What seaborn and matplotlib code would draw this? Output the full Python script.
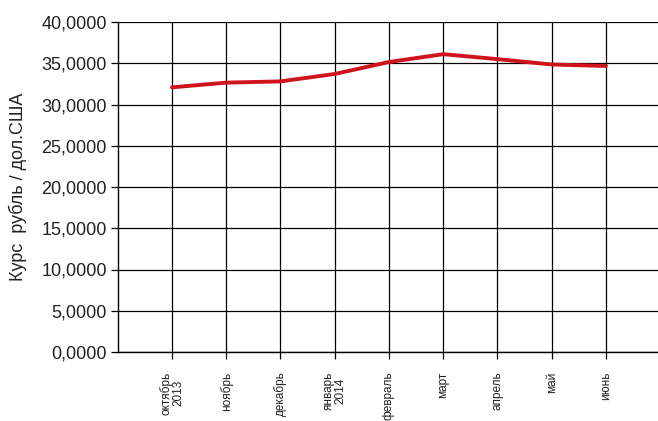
import matplotlib
matplotlib.use("Agg")
import matplotlib.pyplot as plt
import seaborn as sns
import pandas as pd

months = ["октябрь\n2013", "ноябрь", "декабрь", "январь\n2014", "февраль",
          "март", "апрель", "май", "июнь"]
rate = [32.08, 32.65, 32.80, 33.70, 35.15, 36.10, 35.50, 34.85, 34.67]
y_ticks = [0, 5, 10, 15, 20, 25, 30, 35, 40]

sns.set_style("white")
plt.rcParams["font.family"] = ["Liberation Sans", "DejaVu Sans"]

df = pd.DataFrame({"pos": range(1, len(months) + 1), "rate": rate})

fig = plt.figure(figsize=(6.58, 4.21), dpi=100)
ax = fig.add_axes([117.75 / 658, 1 - 352 / 421, 1 - 117.75 / 658, (352 - 22) / 421])

sns.lineplot(data=df, x="pos", y="rate", ax=ax, color="#d0141c", linewidth=2.8,
             zorder=3)

ax.set_xlim(0, 9.96)
ax.set_ylim(0, 40)
ax.set_xticks(df["pos"])
ax.set_xticklabels(months, rotation=90, fontsize=8.5, color="#222222",
                   va="top", ha="center", linespacing=0.95)
ax.set_yticks(y_ticks)
ax.set_yticklabels([f"{v},0000" for v in y_ticks], fontsize=13, color="#222222")
ax.grid(True, color="black", linewidth=0.9)
ax.set_axisbelow(True)

for side in ["top", "right"]:
    ax.spines[side].set_visible(False)
for side in ["left", "bottom"]:
    ax.spines[side].set_color("black")
    ax.spines[side].set_linewidth(1.0)

ax.tick_params(axis="both", which="both", direction="out", length=5, width=0.9,
               color="black", bottom=True, left=True)
ax.tick_params(axis="x", pad=9)
ax.tick_params(axis="y", pad=3)

ax.set_xlabel("")
ax.set_ylabel("Курс  рубль / дол.США", fontsize=13, color="#222222", labelpad=10)

fig.savefig("out.png", dpi=100)
